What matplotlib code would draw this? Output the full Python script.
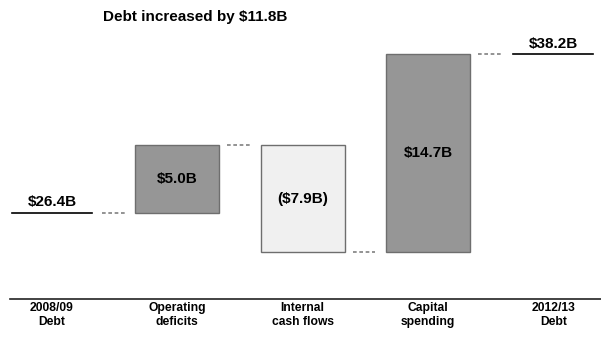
import matplotlib.pyplot as plt

plt.rcParams['font.family'] = ['Liberation Sans', 'DejaVu Sans']
plt.rcParams['font.weight'] = 'bold'

# Debt bridge, $B
categories = ['2008/09\nDebt', 'Operating\ndeficits', 'Internal\ncash flows',
              'Capital\nspending', '2012/13\nDebt']
start_debt = 26.4
changes = [5.0, -7.9, 14.7]
end_debt = 38.2
change_labels = ['$5.0B', '($7.9B)', '$14.7B']
title = 'Debt increased by $11.8B'

fig = plt.figure(figsize=(6.01, 3.37), dpi=100)
ax = fig.add_axes([10 / 601, 38 / 337, 591 / 601, 299 / 337])

# running totals between steps
levels = [start_debt]
for c in changes:
    levels.append(levels[-1] + c)

bar_w = 0.67
# start and end totals drawn as flat lines with the value above
for x, val in [(0, start_debt), (4, end_debt)]:
    ax.plot([x - 0.32, x + 0.32], [val, val], color='black', lw=1.2)
    ax.text(x, val + 0.25, f'${val:.1f}B', ha='center', va='bottom',
            fontsize=11, fontweight='bold')

for i, c in enumerate(changes):
    x = i + 1
    lo = min(levels[i], levels[i + 1])
    color = '#969696' if c > 0 else '#f0f0f0'
    ax.bar(x, abs(c), bottom=lo, width=bar_w, color=color,
           edgecolor='#6e6e6e', linewidth=1)
    ax.text(x, lo + abs(c) / 2, change_labels[i], ha='center', va='center',
            fontsize=11, fontweight='bold')

# dashed connectors between steps
for i in range(4):
    y = levels[i]
    ax.plot([i + 0.4, i + 0.58], [y, y], color='#808080', lw=1.2,
            linestyle=(0, (2.2, 1.6)))

ax.set_xlim(-0.335, 4.38)
ax.set_ylim(20.0, 42.2)
for s in ['top', 'right', 'left']:
    ax.spines[s].set_visible(False)
ax.spines['bottom'].set_color('#222222')
ax.spines['bottom'].set_linewidth(1.2)
ax.set_yticks([])
ax.set_xticks(range(len(categories)))
ax.set_xticklabels(categories, fontsize=8.7, fontweight='bold', linespacing=1.3)
ax.tick_params(axis='x', length=0, pad=2)

fig.text(103 / 601, 1 - 17 / 337, title, ha='left', va='center',
         fontsize=11, fontweight='bold')

fig.savefig('out.png', dpi=100)
